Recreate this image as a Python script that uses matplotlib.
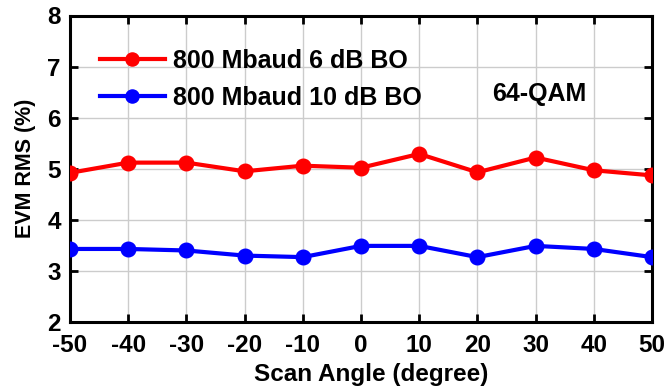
import matplotlib
matplotlib.use("Agg")
import matplotlib.pyplot as plt
from matplotlib.ticker import FixedFormatter

scan_angle = [-50, -40, -30, -20, -10, 0, 10, 20, 30, 40, 50]
evm_6db = [4.92, 5.12, 5.12, 4.95, 5.06, 5.02, 5.29, 4.93, 5.22, 4.97, 4.87]
evm_10db = [3.43, 3.43, 3.40, 3.30, 3.27, 3.49, 3.49, 3.27, 3.49, 3.43, 3.27]
x_ticks = [-50, -40, -30, -20, -10, 0, 10, 20, 30, 40, 50]
y_ticks = [2, 3, 4, 5, 6, 7, 8]

plt.rcParams['font.family'] = ['Liberation Sans', 'DejaVu Sans']
plt.rcParams['font.weight'] = 'bold'
plt.rcParams['axes.unicode_minus'] = False

fig = plt.figure(figsize=(6.68, 3.89), dpi=100)
ax = fig.add_axes([70 / 668, 67 / 389, 582 / 668, 306.5 / 389])

ax.plot(scan_angle, evm_6db, color='red', lw=3.0, marker='o', ms=10.5,
        label='800 Mbaud 6 dB BO', zorder=3)
ax.plot(scan_angle, evm_10db, color='blue', lw=3.0, marker='o', ms=10.5,
        label='800 Mbaud 10 dB BO', zorder=3)

ax.set_xlim(-50, 50)
ax.set_ylim(2, 8)
ax.set_xticks(x_ticks)
ax.set_yticks(y_ticks)
ax.xaxis.set_major_formatter(FixedFormatter([str(v) for v in x_ticks]))
ax.yaxis.set_major_formatter(FixedFormatter([str(v) for v in y_ticks]))
ax.grid(True, color='#cccccc', lw=1)
ax.tick_params(direction='in', length=6, width=2, top=True, right=True,
               labelsize=17.5)
ax.tick_params(axis='x', pad=9)
ax.tick_params(axis='y', pad=6.5)
for s in ax.spines.values():
    s.set_linewidth(2.2)

ax.set_xlabel('Scan Angle (degree)', fontsize=17.5, fontweight='bold', labelpad=2)
ax.xaxis.set_label_coords(0.518, -0.135)
ax.set_ylabel('EVM RMS (%)', fontsize=15.5, fontweight='bold', labelpad=8)

leg = ax.legend(loc='upper left', frameon=False, handlelength=2.6,
                bbox_to_anchor=(0.0515, 0.89), borderaxespad=0, borderpad=0,
                labelspacing=0.5, handletextpad=0.32, markerscale=0.9,
                prop={'weight': 'bold', 'size': 18})
ax.text(0.725, 0.7455, '64-QAM', transform=ax.transAxes, fontsize=18,
        fontweight='bold', ha='left', va='center')

fig.savefig('out.png', dpi=100)
